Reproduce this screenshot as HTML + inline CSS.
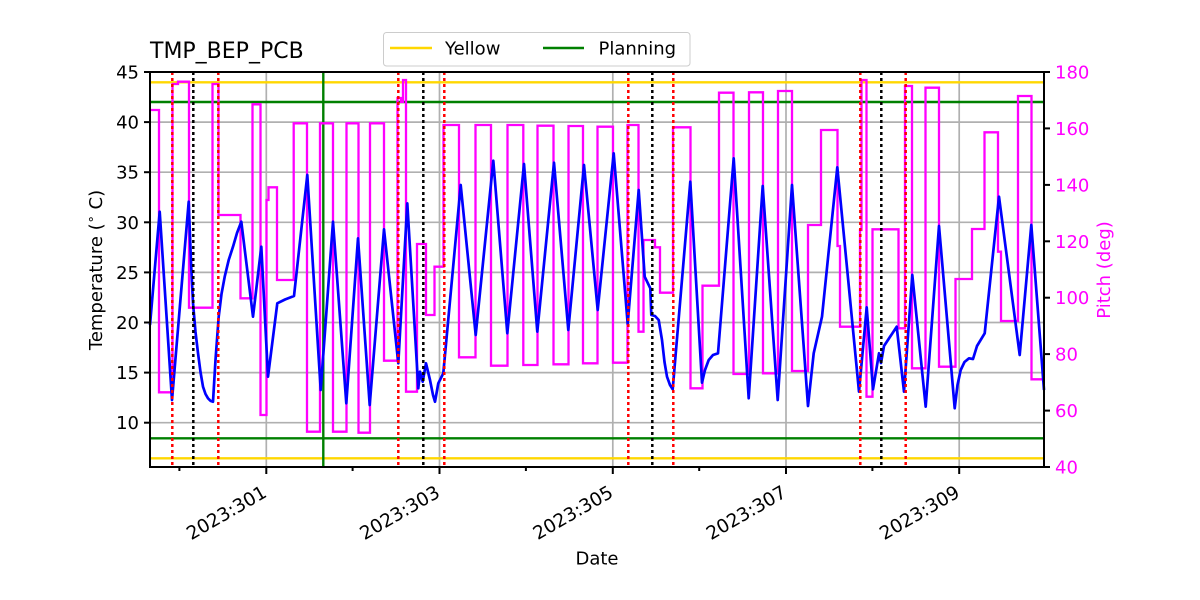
<!DOCTYPE html>
<html><head><meta charset="utf-8"><style>
html,body{margin:0;padding:0;background:#fff;}
svg{display:block;}
text{font-family:"DejaVu Sans","Liberation Sans",sans-serif;}
</style></head><body>
<svg width="1200" height="600" viewBox="0 0 1200 600" xmlns="http://www.w3.org/2000/svg">
<rect width="1200" height="600" fill="#fff"/>
<!-- grid -->
<g stroke="#b0b0b0" stroke-width="1.7">
<line x1="150" x2="1044" y1="122.1" y2="122.1"/>
<line x1="150" x2="1044" y1="172.2" y2="172.2"/>
<line x1="150" x2="1044" y1="222.3" y2="222.3"/>
<line x1="150" x2="1044" y1="272.4" y2="272.4"/>
<line x1="150" x2="1044" y1="322.5" y2="322.5"/>
<line x1="150" x2="1044" y1="372.6" y2="372.6"/>
<line x1="150" x2="1044" y1="422.7" y2="422.7"/>
<line x1="266.3" x2="266.3" y1="72" y2="467"/>
<line x1="439.5" x2="439.5" y1="72" y2="467"/>
<line x1="612.8" x2="612.8" y1="72" y2="467"/>
<line x1="786" x2="786" y1="72" y2="467"/>
<line x1="959.2" x2="959.2" y1="72" y2="467"/>
</g>
<!-- limit lines -->
<g stroke-width="2.4">
<line x1="150" x2="1044" y1="82.3" y2="82.3" stroke="#ffd700"/>
<line x1="150" x2="1044" y1="458.3" y2="458.3" stroke="#ffd700"/>
<line x1="150" x2="1044" y1="102" y2="102" stroke="#008000"/>
<line x1="150" x2="1044" y1="438.3" y2="438.3" stroke="#008000"/>
<line x1="323.3" x2="323.3" y1="72" y2="467" stroke="#008000"/>
</g>
<!-- pitch -->
<path fill="none" stroke="#ff00ff" stroke-width="2.3" stroke-linejoin="miter" d="M150,110 H159 V392.3 H172.5 V84 H178 V81.7 H189 V307.7 H212.5 V84 H218.5 V215 H240.5 V298.3 H252.5 V104.3 H260.5 V415 H266.5 V200 H268.5 V187.3 H277 V280 H293.7 V123.3 H307 V431.7 H320 V123.3 H333 V431.7 H346.5 V123.3 H358.5 V432.7 H370 V123.3 H384 V360.7 H397.5 V98 H401 V102 H403 V80 H406 V391.7 H417 V244 H426 V315 H434.5 V266.7 H443.5 V125 H459 V357.3 H475.5 V125 H491 V365.7 H507.5 V125 H523.3 V365 H537.5 V125.7 H553.5 V364.3 H568.5 V126 H583 V363.3 H597.5 V126.7 H613 V362.7 H627.5 V125 H638.5 V331.7 H643.5 V240 H655 V247.3 H660 V292.7 H673 V127.3 H690.5 V388.3 H702.5 V285.7 H719 V92.7 H733.5 V374 H749 V92.3 H763 V373.3 H778 V91 H792 V371 H808 V225 H821 V130 H837.5 V246 H840 V326.7 H860 V230 H861.5 V80 H866.5 V396.7 H872.5 V229.3 H898.5 V328.3 H905 V86 H912 V368.3 H925.5 V87.7 H939 V366.7 H955.5 V279 H972 V229 H984.5 V132.3 H998 V251.7 H1001 V321 H1018 V96 H1031.5 V379.3 H1044"/>
<!-- temperature -->
<polyline fill="none" stroke="#0000ff" stroke-width="2.7" stroke-linejoin="round" points="150,325 159.7,211.7 172,400 188.7,201.7 191,262 193,303 195.5,332 198,353 200.5,372 203,386.7 205.5,394 208,398.3 210.5,400.8 213,401.7 215.5,360 218.7,316.7 221.5,294 224.7,276.7 228.7,260 233,246.7 237,233 241.3,221.7 253,316.7 261.3,246.7 268,376.7 277.3,303.3 285,299.5 294,296 307.3,175 320.7,390 333,221.7 346.3,403.3 358,238.3 369.7,405 384,229.3 398.3,363.3 407.3,203.3 418.3,388.3 420,371.7 422.7,381.7 426,363.3 430,380 433,395 435,401.7 438.3,383.3 443.3,373.3 460.7,185 475.7,335 493.3,160.7 507.3,333.3 524,164 537.3,331.7 554,162.7 568.3,330 584,165 597.7,310 613.7,153.3 627.7,324 638.7,190 644.7,276.7 650.3,288.3 651.3,315 655,316 658.7,320 662,340 664.5,362 667,376.7 670,385 672.7,389.3 690.3,181.7 702,382.7 705,370 708.7,360 713,355 718,353.3 733.7,158.3 748.7,398.3 762.7,186 777.7,400 792,185 808,406 813.7,353.3 822,316.7 837.3,167.3 859,391.7 866.7,307.3 873,389.3 879,353.3 881,363 884,346 896.7,326.7 904,391.7 912.3,275 925.7,406.7 939,226 954.7,408.3 957.5,385 960.7,370 964.5,362 969,358.3 973,359 977,346 984.7,333.3 999,196.7 1019.7,355 1031.3,225 1044,390"/>
<!-- dotted vertical lines -->
<g stroke-width="2.5" stroke-dasharray="3 3">
<line x1="172.3" x2="172.3" y1="72" y2="467" stroke="#ff0000"/>
<line x1="218.3" x2="218.3" y1="72" y2="467" stroke="#ff0000"/>
<line x1="398.3" x2="398.3" y1="72" y2="467" stroke="#ff0000"/>
<line x1="444.3" x2="444.3" y1="72" y2="467" stroke="#ff0000"/>
<line x1="628.3" x2="628.3" y1="72" y2="467" stroke="#ff0000"/>
<line x1="673.3" x2="673.3" y1="72" y2="467" stroke="#ff0000"/>
<line x1="860.3" x2="860.3" y1="72" y2="467" stroke="#ff0000"/>
<line x1="905.7" x2="905.7" y1="72" y2="467" stroke="#ff0000"/>
<line x1="193.3" x2="193.3" y1="72" y2="467" stroke="#000"/>
<line x1="423.3" x2="423.3" y1="72" y2="467" stroke="#000"/>
<line x1="652.3" x2="652.3" y1="72" y2="467" stroke="#000"/>
<line x1="881.3" x2="881.3" y1="72" y2="467" stroke="#000"/>
</g>
<!-- spines -->
<rect x="150" y="72" width="894" height="395" fill="none" stroke="#000" stroke-width="2"/>
<!-- ticks -->
<g stroke="#000" stroke-width="2">
<line x1="144" x2="150" y1="72" y2="72"/>
<line x1="144" x2="150" y1="122.1" y2="122.1"/>
<line x1="144" x2="150" y1="172.2" y2="172.2"/>
<line x1="144" x2="150" y1="222.3" y2="222.3"/>
<line x1="144" x2="150" y1="272.4" y2="272.4"/>
<line x1="144" x2="150" y1="322.5" y2="322.5"/>
<line x1="144" x2="150" y1="372.6" y2="372.6"/>
<line x1="144" x2="150" y1="422.7" y2="422.7"/>
<line x1="1044" x2="1050" y1="72" y2="72"/>
<line x1="1044" x2="1050" y1="128.4" y2="128.4"/>
<line x1="1044" x2="1050" y1="184.9" y2="184.9"/>
<line x1="1044" x2="1050" y1="241.3" y2="241.3"/>
<line x1="1044" x2="1050" y1="297.7" y2="297.7"/>
<line x1="1044" x2="1050" y1="354.1" y2="354.1"/>
<line x1="1044" x2="1050" y1="410.6" y2="410.6"/>
<line x1="1044" x2="1050" y1="467" y2="467"/>
<line x1="266.3" x2="266.3" y1="467" y2="474"/>
<line x1="439.5" x2="439.5" y1="467" y2="474"/>
<line x1="612.8" x2="612.8" y1="467" y2="474"/>
<line x1="786" x2="786" y1="467" y2="474"/>
<line x1="959.2" x2="959.2" y1="467" y2="474"/>
<line x1="179.4" x2="179.4" y1="467" y2="471"/>
<line x1="352.6" x2="352.6" y1="467" y2="471"/>
<line x1="525.9" x2="525.9" y1="467" y2="471"/>
<line x1="699.2" x2="699.2" y1="467" y2="471"/>
<line x1="872.4" x2="872.4" y1="467" y2="471"/>
</g>
<!-- left tick labels -->
<g font-size="18" text-anchor="end" fill="#000">
<text x="139" y="78.5">45</text>
<text x="139" y="128.6">40</text>
<text x="139" y="178.7">35</text>
<text x="139" y="228.8">30</text>
<text x="139" y="278.9">25</text>
<text x="139" y="329">20</text>
<text x="139" y="379.1">15</text>
<text x="139" y="429.2">10</text>
</g>
<!-- right tick labels -->
<g font-size="18" fill="#ff00ff">
<text x="1055" y="78.5">180</text>
<text x="1055" y="134.9">160</text>
<text x="1055" y="191.4">140</text>
<text x="1055" y="247.8">120</text>
<text x="1055" y="304.2">100</text>
<text x="1055" y="360.6">80</text>
<text x="1055" y="417.1">60</text>
<text x="1055" y="473.5">40</text>
</g>
<!-- x tick labels -->
<g font-size="18.5" text-anchor="end" fill="#000">
<text x="268" y="496" transform="rotate(-30 268 496)">2023:301</text>
<text x="441.2" y="496" transform="rotate(-30 441.2 496)">2023:303</text>
<text x="614.5" y="496" transform="rotate(-30 614.5 496)">2023:305</text>
<text x="787.7" y="496" transform="rotate(-30 787.7 496)">2023:307</text>
<text x="961" y="496" transform="rotate(-30 961 496)">2023:309</text>
</g>
<!-- axis labels -->
<text x="597" y="564.5" font-size="18" text-anchor="middle">Date</text>
<text transform="translate(102 270) rotate(-90)" font-size="18" text-anchor="middle">Temperature (<tspan font-size="13" dy="-7">∘</tspan><tspan dy="7"> C)</tspan></text>
<text transform="translate(1110 270) rotate(-90)" font-size="18" text-anchor="middle" fill="#ff00ff">Pitch (deg)</text>
<!-- title -->
<text x="150" y="58" font-size="22">TMP_BEP_PCB</text>
<!-- legend -->
<rect x="383.5" y="32.5" width="306.5" height="33.5" rx="3" fill="#fff" fill-opacity="0.8" stroke="#cccccc" stroke-width="1"/>
<line x1="390" x2="432" y1="48" y2="48" stroke="#ffd700" stroke-width="2.4"/>
<text x="445" y="54.7" font-size="18">Yellow</text>
<line x1="543" x2="584" y1="48" y2="48" stroke="#008000" stroke-width="2.4"/>
<text x="598.5" y="54.7" font-size="18">Planning</text>
</svg>
</body></html>
